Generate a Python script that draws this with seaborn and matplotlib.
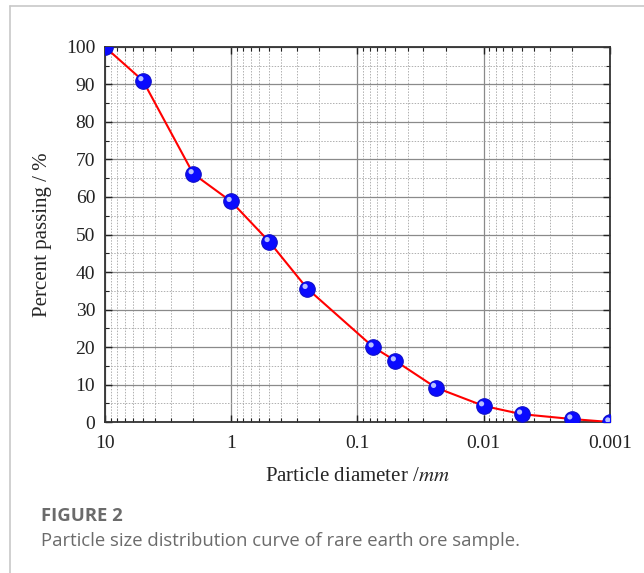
#Curva granulometrica con seaborn

import seaborn as sns
import matplotlib.pyplot as plt
from matplotlib.ticker import LogLocator, MultipleLocator, FuncFormatter
from matplotlib.lines import Line2D
import matplotlib.transforms as mtransforms
import pandas as pd

#datos
diametro = [10, 5, 2, 1, 0.5, 0.25, 0.075, 0.05, 0.024, 0.01, 0.005, 0.002, 0.001]
pasante = [100, 91, 66.2, 58.8, 48.1, 35.6, 20.0, 16.3, 9.2, 4.3, 2.1, 0.8, 0.0]
x_ticks = [10, 1, 0.1, 0.01, 0.001]
y_ticks = [0, 10, 20, 30, 40, 50, 60, 70, 80, 90, 100]

df = pd.DataFrame({"d": diametro, "p": pasante})

sns.set_style("ticks")
plt.rcParams["font.family"] = ["Liberation Serif", "DejaVu Serif"]
plt.rcParams["mathtext.fontset"] = "stix"

fig = plt.figure(figsize=(6.44, 5.73), dpi=100)
ax = fig.add_axes([0.163, 0.2635, 0.784, 0.6545])

#grilla
ax.set_xscale("log")
ax.xaxis.set_major_locator(LogLocator(base=10))
ax.xaxis.set_minor_locator(LogLocator(base=10, subs=range(2, 10)))
ax.yaxis.set_major_locator(MultipleLocator(10))
ax.yaxis.set_minor_locator(MultipleLocator(5))
ax.grid(which="major", color="#8a8a8a", lw=0.9, ls="-")
ax.grid(which="minor", color="#b0b0b0", lw=0.7, ls=(0, (1.5, 1.5)))
ax.set_axisbelow(True)

#curva y puntos (esfera con brillo)
sns.lineplot(data=df, x="d", y="p", color="red", lw=1.5, ax=ax, zorder=3)
sns.scatterplot(data=df, x="d", y="p", color="#0a0aff", s=125, edgecolor="#1010c8",
                linewidth=0.8, ax=ax, zorder=4)
sns.scatterplot(data=df, x="d", y="p", color="#b8c0ff", s=14, edgecolor="none",
                ax=ax, zorder=5)
brillo = ax.collections[-1]
brillo.set_offset_transform(ax.transData + mtransforms.ScaledTranslation(
    -1.5 / 72, 1.5 / 72, fig.dpi_scale_trans))

ax.set_xlim(10, 0.001)
ax.set_ylim(0, 100)
ax.set_xticks(x_ticks)
ax.set_yticks(y_ticks)
ax.xaxis.set_major_formatter(FuncFormatter(lambda v, p: "{:g}".format(v)))
ax.tick_params(which="both", direction="in", top=True, right=True, labelsize=14,
               colors="#222222")
ax.tick_params(which="major", length=5, width=1)
ax.tick_params(which="minor", length=3, width=0.8)
ax.tick_params(axis="x", pad=9)
ax.tick_params(axis="y", pad=7)
for s in ax.spines.values():
    s.set_color("#333333")
    s.set_linewidth(1.3)

ax.set_xlabel("Particle diameter /$\\mathit{mm}$", fontsize=15, labelpad=11)
ax.set_ylabel("Percent passing / %", fontsize=15, labelpad=10)

#marco y leyenda de la figura
fig.add_artist(Line2D([0.0155, 0.0155], [0, 0.9895], color="#c8c8c8", lw=1.2))
fig.add_artist(Line2D([0.0155, 1], [0.9895, 0.9895], color="#c8c8c8", lw=1.2))
fig.text(0.063, 0.099, "FIGURE 2", fontsize=13.3, fontweight="bold", color="#6b6b6b",
         family="Open Sans", va="center")
fig.text(0.063, 0.055, "Particle size distribution curve of rare earth ore sample.",
         fontsize=13.3, color="#6b6b6b", family="Open Sans", va="center")

fig.savefig("out.png", dpi=100)
